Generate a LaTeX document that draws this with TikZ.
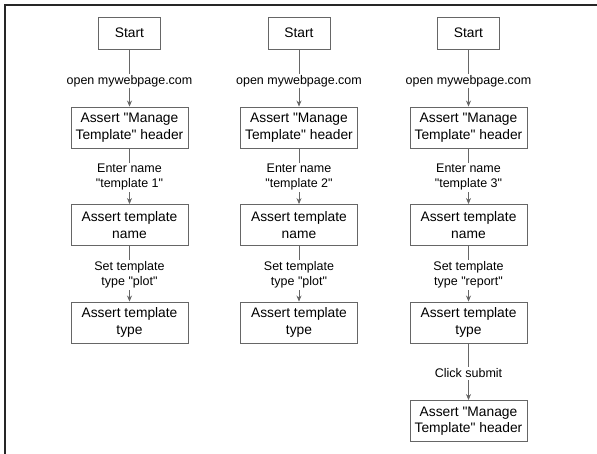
\documentclass[tikz,border=0pt]{standalone}
\usepackage{fontspec}
\setmainfont{Liberation Sans}[Ligatures=TeXOff]
\usetikzlibrary{arrows.meta}
\definecolor{linec}{gray}{0.4}
\begin{document}
\begin{tikzpicture}[x=1pt,y=-1pt,
  box/.style={draw=linec,line width=0.9pt,fill=white,minimum width=117pt,minimum height=41pt,align=center,inner sep=0pt,font=\fontsize{13.8}{16.5}\selectfont},
  startbox/.style={box,minimum width=62pt,minimum height=32pt},
  lab/.style={fill=white,align=center,inner sep=1.5pt,font=\fontsize{12.5}{15}\selectfont},
  conn/.style={draw=linec,line width=0.8pt,-{Stealth[length=6pt,width=5pt,fill=black]}}]
\useasboundingbox (0,0) rectangle (597,454);
\draw[line width=2pt,black!85] (4.5,454) -- (4.5,5.5) -- (597,5.5);
% column 1
\node[startbox] (s1) at (129.5,33) {Start};
\node[box] (a1) at (129.5,127.5) {Assert "Manage\\Template" header};
\node[box] (b1) at (129.5,225) {Assert template\\name};
\node[box] (c1) at (129.5,322.5) {Assert template\\type};
\draw[conn] (s1) -- (a1) node[lab,pos=0.55] {open mywebpage.com};
\draw[conn] (a1) -- (b1) node[lab,pos=0.52] {Enter name\\"template 1"};
\draw[conn] (b1) -- (c1) node[lab,pos=0.52] {Set template\\type "plot"};
% column 2
\node[startbox] (s2) at (299,33) {Start};
\node[box] (a2) at (299,127.5) {Assert "Manage\\Template" header};
\node[box] (b2) at (299,225) {Assert template\\name};
\node[box] (c2) at (299,322.5) {Assert template\\type};
\draw[conn] (s2) -- (a2) node[lab,pos=0.55] {open mywebpage.com};
\draw[conn] (a2) -- (b2) node[lab,pos=0.52] {Enter name\\"template 2"};
\draw[conn] (b2) -- (c2) node[lab,pos=0.52] {Set template\\type "plot"};
% column 3
\node[startbox] (s3) at (468.5,33) {Start};
\node[box] (a3) at (468.5,127.5) {Assert "Manage\\Template" header};
\node[box] (b3) at (468.5,225) {Assert template\\name};
\node[box] (c3) at (468.5,322.5) {Assert template\\type};
\node[box] (d3) at (468.5,421) {Assert "Manage\\Template" header};
\draw[conn] (s3) -- (a3) node[lab,pos=0.55] {open mywebpage.com};
\draw[conn] (a3) -- (b3) node[lab,pos=0.52] {Enter name\\"template 3"};
\draw[conn] (b3) -- (c3) node[lab,pos=0.52] {Set template\\type "report"};
\draw[conn] (c3) -- (d3) node[lab,pos=0.53] {Click submit};
\end{tikzpicture}
\end{document}
